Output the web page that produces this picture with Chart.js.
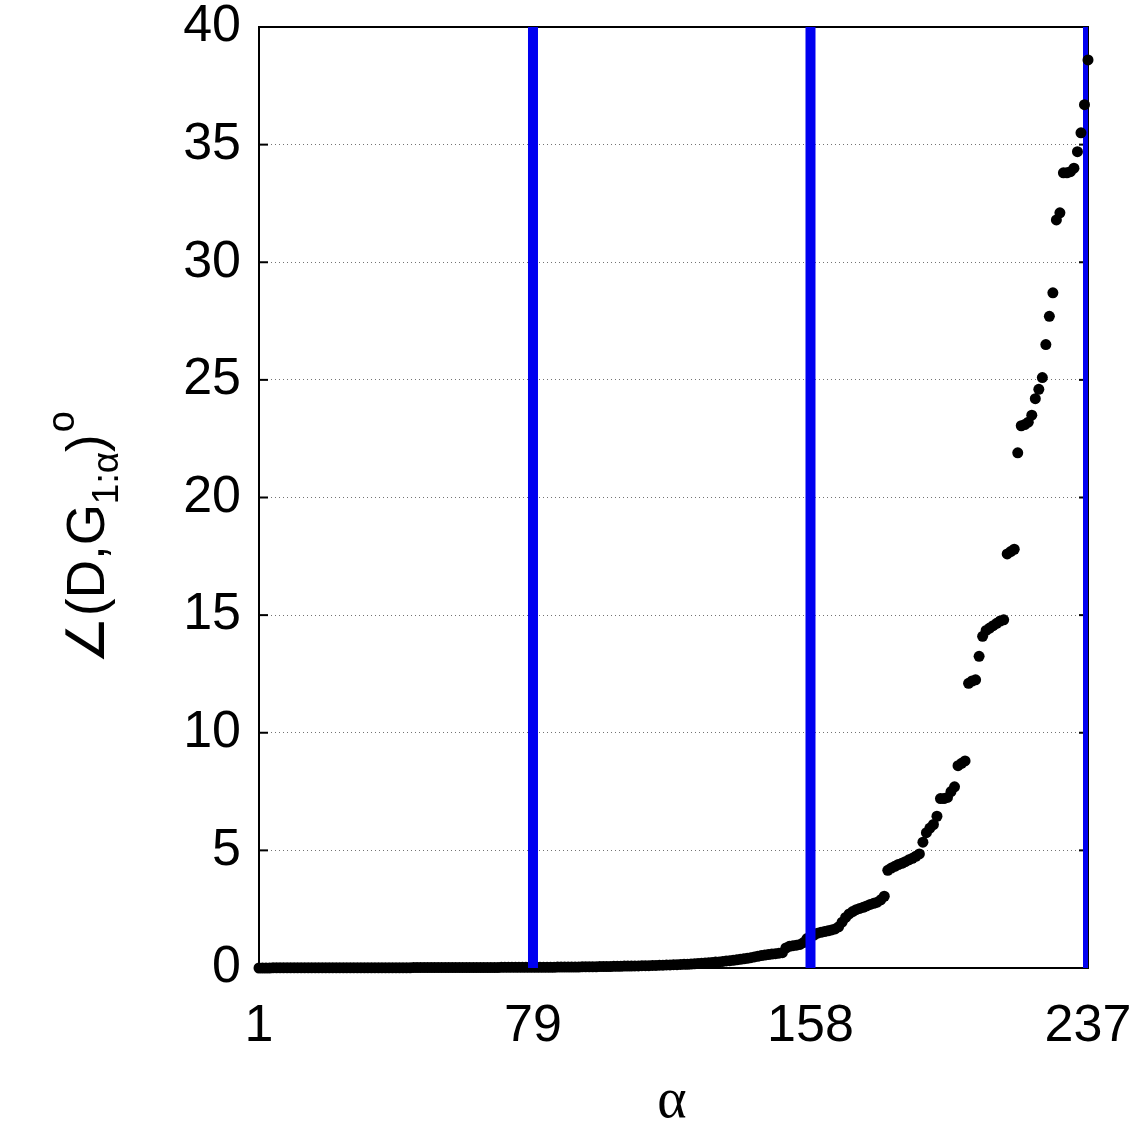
<!DOCTYPE html>
<html>
<head>
<meta charset="utf-8">
<script src="https://cdn.jsdelivr.net/npm/chart.js@4.4.1/dist/chart.umd.min.js"></script>
<style>
  body { margin: 0; background: #fff; }
  #wrap { width: 1138px; height: 1138px; position: relative; }
</style>
</head>
<body>
<div id="wrap"><canvas id="myChart"></canvas></div>
<script>
// angle (degrees) between D and G_{1:alpha}, alpha = 1..237
const angles = [
  0.00,0.00,0.00,0.00,0.01,0.01,0.01,0.01,0.01,0.01,
  0.01,0.01,0.01,0.01,0.01,0.01,0.01,0.01,0.01,0.01,
  0.01,0.01,0.01,0.01,0.01,0.01,0.01,0.01,0.01,0.01,
  0.01,0.01,0.01,0.01,0.01,0.01,0.01,0.01,0.01,0.01,
  0.01,0.01,0.01,0.01,0.02,0.02,0.02,0.02,0.02,0.02,
  0.02,0.02,0.02,0.02,0.02,0.02,0.02,0.02,0.02,0.02,
  0.02,0.02,0.02,0.02,0.02,0.02,0.02,0.02,0.02,0.03,
  0.03,0.03,0.03,0.03,0.03,0.03,0.03,0.03,0.03,0.03,
  0.03,0.03,0.03,0.03,0.03,0.04,0.04,0.04,0.04,0.04,
  0.04,0.04,0.05,0.05,0.05,0.05,0.05,0.06,0.06,0.06,
  0.06,0.07,0.07,0.07,0.08,0.08,0.08,0.09,0.09,0.10,
  0.10,0.10,0.11,0.11,0.12,0.12,0.13,0.13,0.14,0.14,
  0.15,0.16,0.16,0.17,0.18,0.19,0.20,0.21,0.22,0.23,
  0.25,0.26,0.28,0.30,0.31,0.33,0.35,0.37,0.39,0.41,
  0.44,0.47,0.50,0.53,0.55,0.57,0.59,0.61,0.63,0.65,
  0.85,0.92,0.95,0.97,1.00,1.08,1.25,1.32,1.40,1.48,
  1.52,1.55,1.58,1.62,1.66,1.75,1.95,2.15,2.30,2.40,
  2.48,2.53,2.58,2.64,2.70,2.75,2.80,2.90,3.05,4.15,
  4.25,4.32,4.40,4.45,4.52,4.60,4.66,4.75,4.85,5.35,
  5.75,5.95,6.10,6.45,7.20,7.20,7.25,7.50,7.70,8.60,
  8.70,8.80,12.10,12.20,12.25,13.25,14.10,14.35,14.45,14.55,
  14.65,14.75,14.80,17.60,17.70,17.80,21.90,23.05,23.10,23.20,
  23.50,24.20,24.60,25.10,26.50,27.70,28.70,31.80,32.10,33.80,
  33.80,33.85,34.00,34.70,35.50,36.70,38.60
];
const xTicks = [1, 79, 158, 237];
const yTicks = [0, 5, 10, 15, 20, 25, 30, 35, 40];
const splits = [79, 158, 237];   // blue separator lines

const points = angles.map((v, i) => ({ x: i + 1, y: v }));

// the last line sits on the right edge, under the dots; the others go over them
const datasets = splits.map((s, i) => ({
  type: 'line',
  data: [{ x: s, y: 0 }, { x: s, y: 40 }],
  borderColor: '#0000f0',
  borderWidth: 10,
  pointRadius: 0,
  order: i == splits.length - 1 ? 2 : 0
}));
datasets.push({
  type: 'scatter',
  data: points,
  backgroundColor: '#000',
  borderWidth: 0,
  pointRadius: 5.5,
  pointHoverRadius: 5.5,
  clip: false,
  order: 1
});

function seg(ctx, x1, y1, x2, y2) {
  ctx.beginPath(); ctx.moveTo(x1, y1); ctx.lineTo(x2, y2); ctx.stroke();
}

const frame = {
  id: 'frame',
  beforeDatasetsDraw(chart) {
    const ctx = chart.ctx, a = chart.chartArea;
    const xs = chart.scales.x, ys = chart.scales.y;
    ctx.save();
    ctx.strokeStyle = '#000';
    ctx.lineWidth = 2;
    ctx.strokeRect(a.left, a.top, a.right - a.left, a.bottom - a.top);
    yTicks.forEach(v => {
      const p = ys.getPixelForValue(v);
      seg(ctx, a.left, p, a.left + 9, p);
      seg(ctx, a.right - 9, p, a.right, p);
    });
    xTicks.forEach(v => {
      const p = xs.getPixelForValue(v);
      seg(ctx, p, a.bottom, p, a.bottom - 9);
      seg(ctx, p, a.top, p, a.top + 9);
    });
    ctx.restore();
  },
  afterDraw(chart) {
    const ctx = chart.ctx;
    ctx.save();
    ctx.fillStyle = '#000';
    // x label
    ctx.font = '56px "Liberation Serif"';
    ctx.textAlign = 'center';
    ctx.textBaseline = 'alphabetic';
    ctx.fillText('α', 672, 1117);
    // y label with sub/superscript
    ctx.translate(104, 664);
    ctx.rotate(-Math.PI / 2);
    ctx.textAlign = 'left';
    let x = 0;
    ctx.font = '53px "Liberation Sans"';
    ctx.fillText('∠(D,G', x, 0); x += ctx.measureText('∠(D,G').width;
    ctx.font = '37px "Liberation Sans"';
    ctx.fillText('1:α', x, 14); x += ctx.measureText('1:α').width;
    ctx.font = '53px "Liberation Sans"';
    ctx.fillText(')', x, 0); x += ctx.measureText(')').width + 2;
    ctx.font = '38px "Liberation Sans"';
    ctx.fillText('o', x, -30);
    ctx.restore();
  }
};

const ctx = document.getElementById('myChart').getContext('2d');
const myChart = new Chart(ctx, {
  data: { datasets: datasets },
  plugins: [frame],
  options: {
    responsive: true,
    maintainAspectRatio: false,
    animation: false,
    layout: { padding: { left: 0, right: 50, top: 27, bottom: 0 } },
    plugins: {
      legend: { display: false },
      tooltip: { enabled: false }
    },
    scales: {
      x: {
        type: 'linear',
        min: 1,
        max: 237,
        afterBuildTicks: s => { s.ticks = xTicks.map(v => ({ value: v })); },
        afterFit: s => { s.height = 170; s.paddingLeft = 0; s.paddingRight = 0; },
        grid: { display: false, drawTicks: false },
        border: { display: false },
        ticks: {
          color: '#000',
          padding: 27,
          maxRotation: 0,
          font: { family: 'Liberation Sans', size: 52 }
        }
      },
      y: {
        type: 'linear',
        min: 0,
        max: 40,
        afterFit: s => { s.width = 259; s.paddingTop = 0; s.paddingBottom = 0; },
        grid: { color: 'rgba(0,0,0,0.55)', lineWidth: 1, drawTicks: false },
        border: { display: false, dash: [1, 3] },
        ticks: {
          stepSize: 5,
          color: '#000',
          padding: 18,
          font: { family: 'Liberation Sans', size: 52 }
        }
      }
    }
  }
});
</script>
</body>
</html>
